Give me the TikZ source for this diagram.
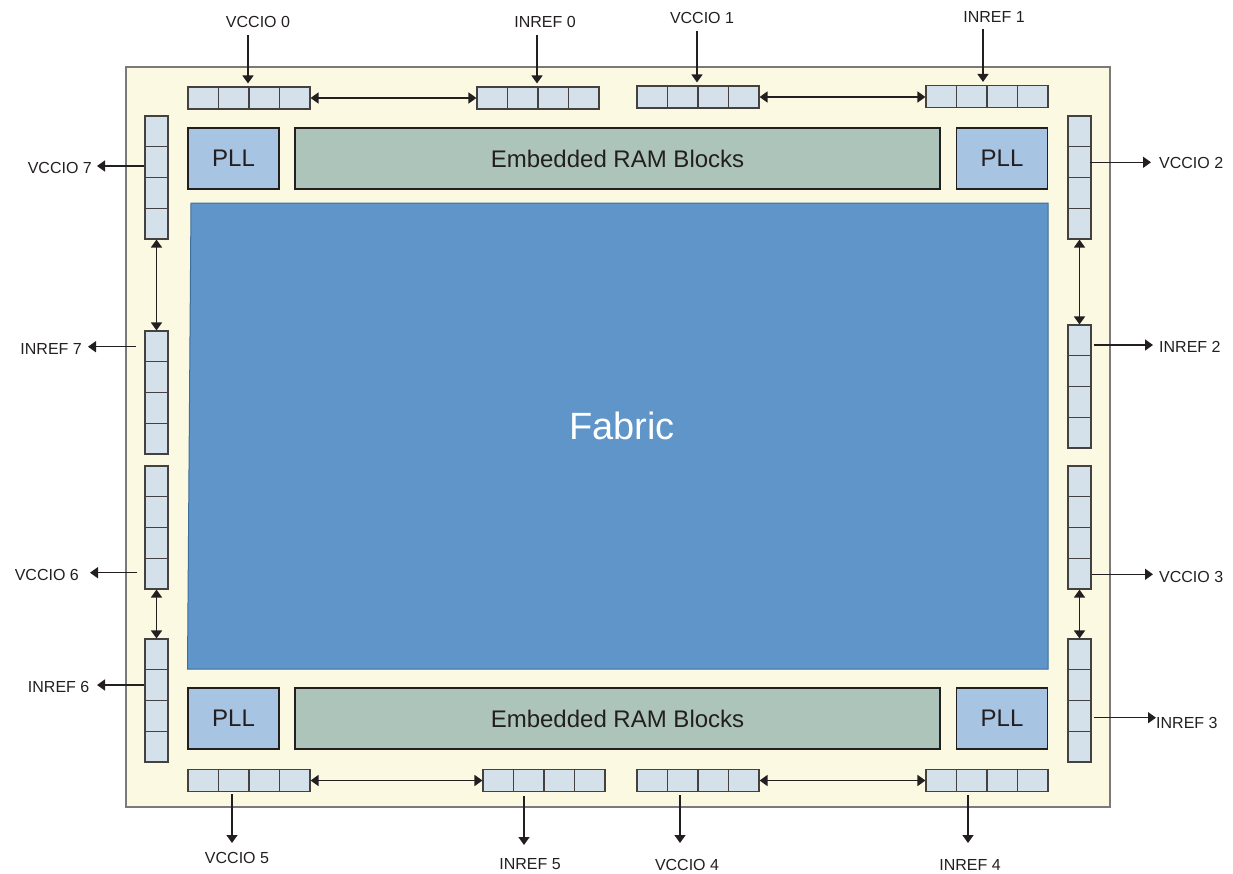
\documentclass[tikz,border=0pt]{standalone}
\usepackage{fontspec}
\setmainfont{Liberation Sans}
\usetikzlibrary{arrows.meta,calc}
\definecolor{chipbg}{HTML}{FCF9E3}
\definecolor{chipline}{HTML}{7A7A7A}
\definecolor{bankfill}{HTML}{D5E1EA}
\definecolor{pllfill}{HTML}{A7C4E3}
\definecolor{ramfill}{HTML}{ADC4BB}
\definecolor{fabfill}{HTML}{5F95C9}
\definecolor{fabline}{HTML}{3E6E9C}
\definecolor{ink}{HTML}{231F20}
\tikzset{
  hbank/.style={draw=ink!85, line width=1.1pt, fill=bankfill, minimum width=122pt, minimum height=22pt, inner sep=0pt},
  vbank/.style={draw=ink!85, line width=1.1pt, fill=bankfill, minimum width=23pt, minimum height=123pt, inner sep=0pt},
  pllbox/.style={draw=ink, line width=1.1pt, fill=pllfill, minimum width=91pt, minimum height=61pt, inner sep=0pt, font=\fontsize{24}{28}\selectfont, text=ink},
  rambox/.style={draw=ink, line width=1.1pt, fill=ramfill, minimum width=645pt, minimum height=61pt, inner sep=0pt, font=\fontsize{24}{28}\selectfont, text=ink},
  lbl/.style={inner sep=0pt, font=\fontsize{16}{18}\selectfont, text=ink},
  arr/.style={draw=ink, line width=1.5pt, -{Triangle[length=8pt,width=11pt]}},
  darr/.style={draw=ink, line width=1.5pt, {Triangle[length=8pt,width=11pt]}-{Triangle[length=8pt,width=11pt]}}
}
\newcommand{\hcells}[1]{\foreach \i in {1,2,3}{\draw[ink!85, line width=1.1pt] ($(#1.north west)!\i/4!(#1.north east)$) -- ($(#1.south west)!\i/4!(#1.south east)$);}}
\newcommand{\vcells}[1]{\foreach \i in {1,2,3}{\draw[ink!85, line width=1.1pt] ($(#1.north west)!\i/4!(#1.south west)$) -- ($(#1.north east)!\i/4!(#1.south east)$);}}
\begin{document}
\begin{tikzpicture}[x=1pt,y=-1pt]
\useasboundingbox (0,0) rectangle (1233,873);
% chip outline
\node[draw=chipline, line width=1.2pt, fill=chipbg, minimum width=984pt, minimum height=740pt, inner sep=0pt] (chip) at (618,437) {};
% fabric
\draw[draw=fabline, line width=1pt, fill=fabfill] (191,203) -- (1048,203) -- (1048,669) -- (187.5,669) -- cycle;
\node[inner sep=0pt, text=white, font=\fontsize{38}{44}\selectfont] (fab) at (622,426) {Fabric};
% PLLs and RAM
\node[pllbox] (pllTL) at (233.5,158.5) {PLL};
\node[pllbox] (pllTR) at (1002,158.5) {PLL};
\node[pllbox] (pllBL) at (233.5,718.5) {PLL};
\node[pllbox] (pllBR) at (1002,718.5) {PLL};
\node[rambox] (ramT) at (617.5,158.5) {Embedded RAM Blocks};
\node[rambox] (ramB) at (617.5,718.5) {Embedded RAM Blocks};
% horizontal banks
\node[hbank] (b0) at (249,98) {};
\node[hbank] (r0) at (538,98) {};
\node[hbank] (b1) at (698,97) {};
\node[hbank] (r1) at (987,96.5) {};
\node[hbank] (b5) at (249,780.5) {};
\node[hbank] (r5) at (544,780.5) {};
\node[hbank] (b4) at (698,780.5) {};
\node[hbank] (r4) at (987,780.5) {};
\foreach \n in {b0,r0,b1,r1,b5,r5,b4,r4}{\hcells{\n}}
% vertical banks
\node[vbank] (b7) at (156.5,177.5) {};
\node[vbank] (r7) at (156.5,392.5) {};
\node[vbank] (b6) at (156.5,527.5) {};
\node[vbank] (r6) at (156.5,700.5) {};
\node[vbank] (b2) at (1079.5,177.5) {};
\node[vbank] (r2) at (1079.5,386.5) {};
\node[vbank] (b3) at (1079.5,527.5) {};
\node[vbank] (r3) at (1079.5,700.5) {};
\foreach \n in {b7,r7,b6,r6,b2,r2,b3,r3}{\vcells{\n}}
% double arrows between banks
\draw[darr] (b0.east) -- (r0.west);
\draw[darr] (b1.east) -- (b1.east -| r1.west);
\draw[darr] (b5.east) -- (r5.west);
\draw[darr] (b4.east) -- (r4.west);
\draw[darr] (b7.south) -- (r7.north);
\draw[darr] (b6.south) -- (r6.north);
\draw[darr] (b2.south) -- (r2.north);
\draw[darr] (b3.south) -- (r3.north);
% top labels
\node[lbl] (lv0) at (258,21.5) {VCCIO 0};
\node[lbl] (li0) at (545,21.5) {INREF 0};
\node[lbl] (lv1) at (702,17.5) {VCCIO 1};
\node[lbl] (li1) at (994,17) {INREF 1};
\coordinate (av0) at (248,35);
\coordinate (ai0) at (537,35);
\coordinate (av1) at (697,31);
\coordinate (ai1) at (983,29);
\draw[arr, shorten >=3pt] (av0) -- (av0 |- b0.north);
\draw[arr, shorten >=3pt] (ai0) -- (ai0 |- r0.north);
\draw[arr, shorten >=3pt] (av1) -- (av1 |- b1.north);
\draw[arr, shorten >=3pt] (ai1) -- (ai1 |- r1.north);
% bottom labels
\node[lbl] (lv5) at (237,858) {VCCIO 5};
\node[lbl] (li5) at (530,864) {INREF 5};
\node[lbl] (lv4) at (687,865) {VCCIO 4};
\node[lbl] (li4) at (970,865) {INREF 4};
\coordinate (av5) at (232,843);
\coordinate (ai5) at (524,845);
\coordinate (av4) at (680,843);
\coordinate (ai4) at (968,843);
\draw[arr, shorten <=2pt] (av5 |- b5.south) -- (av5);
\draw[arr, shorten <=4pt] (ai5 |- r5.south) -- (ai5);
\draw[arr, shorten <=3pt] (av4 |- b4.south) -- (av4);
\draw[arr, shorten <=3pt] (ai4 |- r4.south) -- (ai4);
% left labels
\node[lbl, anchor=east] (lv7) at (92,168) {VCCIO 7};
\node[lbl, anchor=east] (li7) at (82,349) {INREF 7};
\node[lbl, anchor=east] (lv6) at (79,575) {VCCIO 6};
\node[lbl, anchor=east] (li6) at (89.5,686.5) {INREF 6};
\coordinate (cv7) at (97,166);
\coordinate (ci7) at (88,346.7);
\coordinate (cv6) at (90,572.7);
\coordinate (ci6) at (97,685);
\draw[arr] (b7.west |- cv7) -- (cv7);
\draw[arr, shorten <=8pt] (r7.west |- ci7) -- (ci7);
\draw[arr, shorten <=7pt] (b6.west |- cv6) -- (cv6);
\draw[arr] (r6.west |- ci6) -- (ci6);
% right labels
\node[lbl, anchor=west] (lv2) at (1159,163) {VCCIO 2};
\node[lbl, anchor=west] (li2) at (1159,347) {INREF 2};
\node[lbl, anchor=west] (lv3) at (1159,577) {VCCIO 3};
\node[lbl, anchor=west] (li3) at (1156,722.5) {INREF 3};
\coordinate (cv2) at (1151,162.3);
\coordinate (ci2) at (1153,345);
\coordinate (cv3) at (1153,574.3);
\coordinate (ci3) at (1156,717.7);
\draw[arr] ([xshift=-2pt]b2.east |- cv2) -- (cv2);
\draw[arr, shorten <=2pt] (r2.east |- ci2) -- (ci2);
\draw[arr] (b3.east |- cv3) -- (cv3);
\draw[arr, shorten <=2pt] (r3.east |- ci3) -- (ci3);
\end{tikzpicture}
\end{document}
